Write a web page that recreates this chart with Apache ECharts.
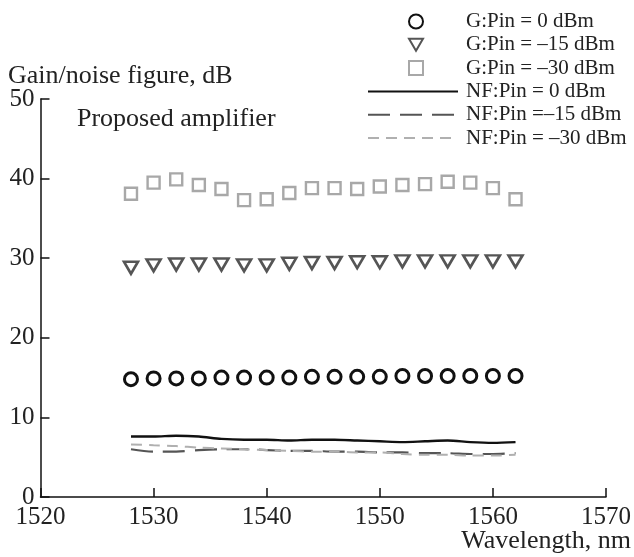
<!DOCTYPE html>
<html>
<head>
<meta charset="utf-8">
<script src="https://cdn.jsdelivr.net/npm/echarts@6/dist/echarts.min.js"></script>
<style>
html, body { margin: 0; padding: 0; background: #fff; }
#plot { width: 634px; height: 557px; }
</style>
</head>
<body>
<div id="plot"></div>
<script>
var wavelength = [1528, 1530, 1532, 1534, 1536, 1538, 1540, 1542, 1544, 1546, 1548, 1550, 1552, 1554, 1556, 1558, 1560, 1562];
var gain0 = [14.8, 14.9, 14.9, 14.9, 15.0, 15.0, 15.0, 15.0, 15.1, 15.1, 15.1, 15.1, 15.2, 15.2, 15.2, 15.2, 15.2, 15.2];
var gain15 = [28.8, 29.1, 29.2, 29.2, 29.2, 29.1, 29.1, 29.3, 29.4, 29.4, 29.5, 29.5, 29.6, 29.6, 29.6, 29.6, 29.6, 29.6];
var gain30 = [38.1, 39.5, 39.9, 39.2, 38.7, 37.3, 37.4, 38.2, 38.8, 38.8, 38.7, 39.0, 39.2, 39.3, 39.6, 39.5, 38.8, 37.4];
var nf0 = [7.6, 7.6, 7.7, 7.6, 7.3, 7.2, 7.2, 7.1, 7.2, 7.2, 7.1, 7.0, 6.9, 7.0, 7.1, 6.9, 6.8, 6.9];
var nf15 = [6.0, 5.7, 5.7, 5.9, 6.0, 6.0, 5.9, 5.8, 5.8, 5.7, 5.7, 5.6, 5.6, 5.5, 5.5, 5.4, 5.4, 5.5];
var nf30 = [6.6, 6.5, 6.4, 6.2, 6.1, 6.0, 5.9, 5.8, 5.7, 5.7, 5.6, 5.6, 5.4, 5.3, 5.3, 5.2, 5.2, 5.3];
var xTicks = [1520, 1530, 1540, 1550, 1560, 1570];
var yTicks = [0, 10, 20, 30, 40, 50];

var serif = 'Liberation Serif';
// downward triangle marker
var downTriangle = 'path://M0,0L10,0L5,8.66Z';

function pairs (ys) {
	var out = [];
	for (var i = 0; i < wavelength.length; i++)
		out.push([wavelength[i], ys[i]]);
	return out;
}

function markerSeries (name, ys, symbol, size, color, width) {
	return {
		name: name,
		type: 'scatter',
		data: pairs(ys),
		symbol: symbol,
		symbolSize: size,
		itemStyle: {
			color: 'rgba(255,255,255,0)',
			borderColor: color,
			borderWidth: width,
			opacity: 1
		}
	};
}

function lineSeries (name, ys, color, width, dash) {
	return {
		name: name,
		type: 'line',
		data: pairs(ys),
		symbol: 'none',
		smooth: 0.3,
		color: color,
		lineStyle: { color: color, width: width, type: dash }
	};
}

var axisText = { fontFamily: serif, fontSize: 25, color: '#222' };
var nameText = { fontFamily: serif, fontSize: 26, fontWeight: 'normal', color: '#222' };

var option = {
	animation: false,
	backgroundColor: '#fff',
	title: [
		{ text: 'Gain/noise figure, dB', left: 8, top: 63, padding: 0, textStyle: nameText },
		{ text: 'Proposed amplifier', left: 77, top: 106, padding: 0, textStyle: nameText },
		{ text: 'Wavelength, nm', right: 3, top: 528, padding: 0, textStyle: nameText }
	],
	legend: [
		{
			data: ['G:Pin = 0 dBm', 'G:Pin = –15 dBm', 'G:Pin = –30 dBm'],
			orient: 'vertical',
			left: 408,
			top: 11,
			padding: 0,
			itemWidth: 14,
			itemHeight: 14,
			itemGap: 2.3,
			selectedMode: false,
			textStyle: { fontFamily: serif, fontSize: 21, color: '#222', padding: [0, 0, 0, 38] }
		},
		{
			data: ['NF:Pin = 0 dBm', 'NF:Pin =–15 dBm', 'NF:Pin = –30 dBm'],
			orient: 'vertical',
			left: 367,
			top: 81,
			padding: 0,
			itemWidth: 90,
			itemHeight: 14,
			itemGap: 2.3,
			selectedMode: false,
			itemStyle: { color: 'rgba(0,0,0,0)', borderWidth: 0, opacity: 0 },
			textStyle: { fontFamily: serif, fontSize: 21, color: '#222', padding: [0, 0, 0, 3] }
		}
	],
	grid: { left: 40.5, right: 28, top: 99, bottom: 60 },
	xAxis: {
		type: 'value',
		min: xTicks[0],
		max: xTicks[xTicks.length - 1],
		interval: 10,
		axisLine: { lineStyle: { color: '#111', width: 1.5 } },
		axisTick: { inside: true, length: 9, lineStyle: { color: '#111', width: 1.5 } },
		axisLabel: Object.assign({ margin: 8, formatter: function (v) { return String(v); } }, axisText),
		splitLine: { show: false }
	},
	yAxis: {
		type: 'value',
		min: yTicks[0],
		max: yTicks[yTicks.length - 1],
		interval: 10,
		axisLine: { show: true, lineStyle: { color: '#111', width: 1.5 } },
		axisTick: { show: true, inside: true, length: 9, lineStyle: { color: '#111', width: 1.5 } },
		axisLabel: Object.assign({ margin: 6 }, axisText),
		splitLine: { show: false }
	},
	series: [
		markerSeries('G:Pin = 0 dBm', gain0, 'circle', 13, '#111', 3),
		markerSeries('G:Pin = –15 dBm', gain15, downTriangle, [14, 12], '#555', 2.6),
		markerSeries('G:Pin = –30 dBm', gain30, 'rect', 12, '#a8a8a8', 2.4),
		lineSeries('NF:Pin = 0 dBm', nf0, '#111', 2.4, 'solid'),
		lineSeries('NF:Pin =–15 dBm', nf15, '#555', 2.2, [22, 10]),
		lineSeries('NF:Pin = –30 dBm', nf30, '#b0b0b0', 2, [11, 7])
	]
};

var myChart = echarts.init(document.getElementById('plot'));
myChart.setOption(option);
</script>
</body>
</html>
